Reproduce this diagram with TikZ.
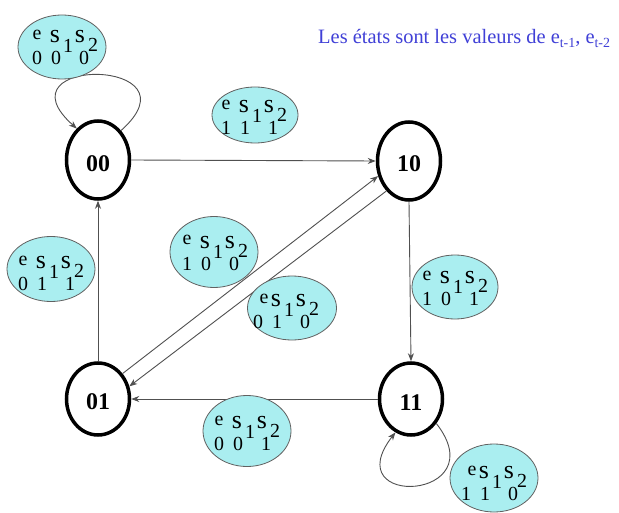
\documentclass[tikz,border=0pt]{standalone}
\usepackage{fontspec}
\setmainfont{Liberation Serif}
\usetikzlibrary{arrows.meta,shapes.geometric}

\definecolor{labfill}{RGB}{170,238,240}
\definecolor{titleblue}{RGB}{64,64,215}
\definecolor{edgegray}{RGB}{80,80,80}

\tikzset{
  state/.style={ellipse, draw=black, line width=3.5bp, minimum width=63bp,
    minimum height=78bp, inner sep=0pt},
  statetext/.style={inner sep=0pt, font=\fontsize{24}{24}\selectfont\bfseries},
  lab/.style={ellipse, draw=edgegray!90, line width=0.8bp, fill=labfill,
    inner sep=0pt},
  glyph/.style={anchor=base, inner sep=0pt, font=\fontsize{20}{20}\selectfont},
  bigs/.style={glyph, font=\fontsize{26}{26}\selectfont},
  edge/.style={draw=edgegray, line width=0.9bp,
    -{Stealth[length=8bp,width=6bp,inset=2.5bp]}},
}

% transition label: name, centre, width, height, text origin, shift of "e", digits
\newcommand\lbl[9]{%
  \node[lab, minimum width=#3bp, minimum height=#4bp] (#1) at (#2) {};
  \begin{scope}[shift={(#5)}]
    \node[glyph] (#1-e)  at (#6,-25) {e};
    \node[bigs]  (#1-s1) at (18,-22) {s};
    \node[glyph] (#1-i1) at (31,-12) {1};
    \node[bigs]  (#1-s2) at (43,-22) {s};
    \node[glyph] (#1-i2) at (56,-13) {2};
    \node[glyph] (#1-a)  at (0,0)  {#7};
    \node[glyph] (#1-b)  at (19,0) {#8};
    \node[glyph] (#1-c)  at (47,0) {#9};
  \end{scope}}

\begin{document}
\begin{tikzpicture}[x=1bp, y=-1bp]
  \fill[white] (0,0) rectangle (619,513);
  \useasboundingbox (0,0) rectangle (619,513);

  % states
  \node[state] (s00) at (98,160) {};
  \node[state] (s10) at (409,161) {};
  \node[state, minimum height=72bp] (s01) at (98,399) {};
  \node[state, minimum height=72bp] (s11) at (411,399) {};
  \node[statetext] (t00) at ([yshift=-4bp]s00.center) {00};
  \node[statetext] (t10) at ([yshift=-3bp]s10.center) {10};
  \node[statetext] (t01) at ([yshift=-3bp]s01.center) {01};
  \node[statetext] (t11) at ([yshift=-4bp]s11.center) {11};

  % transitions
  \draw[edge] (s00.east) -- (s10.west);
  \draw[edge] (s01.north) -- (s00.south);
  \draw[edge] (s10.south) -- (s11.north);
  \draw[edge] (s11.west) -- (s01.east);
  \draw[edge] (s01.46) -- (s10.206);
  \draw[edge] (s10.233) -- (s01.22);
  \draw[edge] (s00.52) .. controls +(82,-73) and +(-82,-73) .. (s00.124);
  \draw[edge] (s11.-44) .. controls +(60,77) and +(-60,77) .. (s11.-115);

  % output labels
  \lbl{l000}{62,47}{88}{64}{37,65}{0}{0}{0}{0}
  \lbl{l111}{255,115}{86}{56}{226,135}{0}{1}{1}{1}
  \lbl{l100}{214,252}{88}{71}{187,270}{0}{1}{0}{0}
  \lbl{l010}{292,308}{89}{64}{258,328}{6}{0}{1}{0}
  \lbl{l011}{51,269}{88}{65}{23,290}{0}{0}{1}{1}
  \lbl{l101}{455,287}{86}{64}{427,305}{0}{1}{0}{1}
  \lbl{l001}{247,431}{88}{71}{219,450}{0}{0}{0}{1}
  \lbl{l110}{494,478}{88}{68}{466,500}{6}{1}{1}{0}

  % caption
  \node[anchor=base west, inner sep=0pt, text=titleblue,
        font=\fontsize{20.5}{20.5}\selectfont] (title) at (318,44)
    {Les états sont les valeurs de e\raisebox{-4bp}{\fontsize{14}{14}\selectfont t-1},
     e\raisebox{-4bp}{\fontsize{14}{14}\selectfont t-2}};
\end{tikzpicture}
\end{document}
